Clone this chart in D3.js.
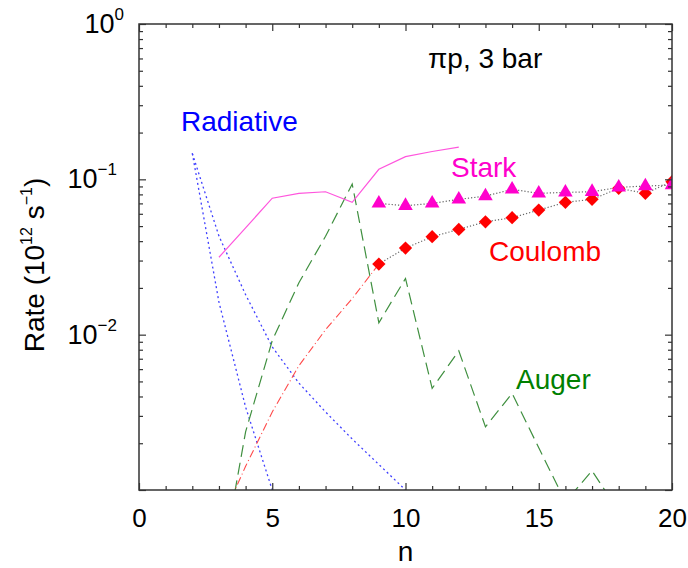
<!DOCTYPE html>
<html>
<head>
<meta charset="utf-8">
<script src="https://cdn.jsdelivr.net/npm/d3@7"></script>
<style>
  body { margin: 0; background: #fff; }
  text { font-family: "Liberation Sans", Arial, sans-serif; }
</style>
</head>
<body>
<svg id="chart" width="688" height="568"></svg>
<script>
// data (rates in 10^12 s^-1)
const radiativeFastN = [2, 3, 4, 5]
const radiativeFast = [0.147, 0.0162, 0.00342, 0.001]
const radiativeSlowN = [2, 3, 4, 5, 6, 7, 8, 9, 10]
const radiativeSlow = [0.147, 0.0431, 0.0181, 0.00834, 0.00488, 0.00318, 0.00213, 0.00146, 0.001]
const starkLineN = [3, 4, 5, 6, 7, 8, 9, 10, 11, 12]
const starkLine = [0.0315, 0.0487, 0.0756, 0.0813, 0.0832, 0.0711, 0.116, 0.140, 0.151, 0.161]
const coulombLineN = [3, 4, 5, 6, 7, 8, 9]
const coulombLine = [0.00059, 0.00142, 0.00318, 0.00631, 0.01076, 0.01707, 0.0285]
const augerN = [3, 4, 5, 6, 7, 8, 9, 10, 11, 12, 13, 14, 15, 16, 17, 18]
const auger = [0.00026, 0.00237, 0.00916, 0.0216, 0.0430, 0.0933, 0.01193, 0.0230, 0.00451, 0.00787,
  0.00255, 0.00419, 0.00187, 0.00084, 0.00133, 0.00073]
const markerN = [9, 10, 11, 12, 13, 14, 15, 16, 17, 18, 19, 20]
const starkMarks = [0.070, 0.0676, 0.070, 0.0743, 0.078, 0.0862, 0.0813, 0.0824, 0.0832, 0.0888, 0.0905, 0.0919]
const coulombMarks = [0.0285, 0.0361, 0.0427, 0.0476, 0.0533, 0.0566, 0.0634, 0.0711, 0.0743, 0.0875, 0.0813, 0.0965]
const xTicks = [0, 5, 10, 15, 20]
const yTicks = [0, -1, -2]

const plotLeft = 139
const plotRight = 672
const plotTop = 24
const plotBottom = 490

const x = d3.scaleLinear().domain([0, 20]).range([plotLeft, plotRight])
const y = d3.scaleLog().domain([1e-3, 1]).range([plotBottom, plotTop])

const svg = d3.select('#chart')

svg.append('clipPath').attr('id', 'plot')
  .append('rect')
  .attr('x', plotLeft).attr('y', plotTop)
  .attr('width', plotRight - plotLeft).attr('height', plotBottom - plotTop)

const plot = svg.append('g').attr('clip-path', 'url(#plot)')

function zip (ns, vs) {
  return ns.map((n, i) => [n, vs[i]])
}

const line = d3.line().x(d => x(d[0])).y(d => y(d[1]))

function drawLine (data, color, width, dash) {
  plot.append('path')
    .datum(data)
    .attr('d', line)
    .style('fill', 'none')
    .style('stroke', color)
    .style('stroke-width', width)
    .style('stroke-dasharray', dash)
}

drawLine(zip(radiativeFastN, radiativeFast), '#4040ff', 1.3, '2,3')
drawLine(zip(radiativeSlowN, radiativeSlow), '#4040ff', 1.3, '2,3')
drawLine(zip(augerN, auger), '#3f8f3f', 1.2, '12,6')
drawLine(zip(coulombLineN, coulombLine), '#ff4a4a', 1.1, '8,3,1,3')
drawLine(zip(starkLineN, starkLine), '#ff55dd', 1.2, null)
drawLine(zip(markerN, starkMarks), '#666', 1.2, '1.2,2')
drawLine(zip(markerN, coulombMarks), '#666', 1.2, '1.2,2')

const diamond = d3.symbol().type(d3.symbolSquare).size(88)
plot.selectAll('.coulomb')
  .data(zip(markerN, coulombMarks))
  .enter().append('path')
  .attr('class', 'coulomb')
  .attr('d', diamond)
  .attr('transform', d => `translate(${x(d[0])},${y(d[1])}) rotate(45)`)
  .style('fill', '#ff0000')

const triangle = d3.symbol().type(d3.symbolTriangle).size(92)
plot.selectAll('.stark')
  .data(zip(markerN, starkMarks))
  .enter().append('path')
  .attr('class', 'stark')
  .attr('d', triangle)
  .attr('transform', d => `translate(${x(d[0])},${y(d[1])})`)
  .style('fill', '#ff00cc')

// frame and ticks (inward)
const axisColor = '#333'
function styleAxis (g) {
  g.select('.domain').remove()
  g.selectAll('.tick line').style('stroke', axisColor).style('stroke-width', 1.2)
  g.selectAll('.tick text').style('font-size', '26px').style('fill', '#000')
}

const xMinor = d3.range(0, 21)
const xb = svg.append('g').attr('transform', `translate(0,${plotBottom})`)
  .call(d3.axisBottom(x).tickValues(xMinor).tickSize(-4).tickPadding(19)
    .tickFormat(d => xTicks.includes(d) ? d : ''))
xb.selectAll('.tick line').attr('y2', d => xTicks.includes(d) ? -7 : -4)
styleAxis(xb)

const xt = svg.append('g').attr('transform', `translate(0,${plotTop})`)
  .call(d3.axisTop(x).tickValues(xMinor).tickSize(-4).tickFormat(''))
xt.selectAll('.tick line').attr('y2', d => xTicks.includes(d) ? 7 : 4)
styleAxis(xt)

const yMinor = []
for (let e = -3; e < 0; e++) {
  for (let m = 1; m < 10; m++) yMinor.push(m * Math.pow(10, e))
}
yMinor.push(1)
const isMajorY = d => Math.abs(Math.log10(d) - Math.round(Math.log10(d))) < 1e-6

const yl = svg.append('g').attr('transform', `translate(${plotLeft},0)`)
  .call(d3.axisLeft(y).tickValues(yMinor).tickSize(-4).tickFormat(''))
yl.selectAll('.tick line').attr('x2', d => isMajorY(d) ? 7 : 4)
styleAxis(yl)

const yr = svg.append('g').attr('transform', `translate(${plotRight},0)`)
  .call(d3.axisRight(y).tickValues(yMinor).tickSize(-4).tickFormat(''))
yr.selectAll('.tick line').attr('x2', d => isMajorY(d) ? -7 : -4)
styleAxis(yr)

svg.append('rect')
  .attr('x', plotLeft).attr('y', plotTop)
  .attr('width', plotRight - plotLeft).attr('height', plotBottom - plotTop)
  .style('fill', 'none')
  .style('stroke', axisColor)
  .style('stroke-width', 1.5)

// y tick labels 10^k
const yLab = svg.selectAll('.ylab')
  .data(yTicks)
  .enter().append('text')
  .attr('class', 'ylab')
  .attr('x', d => d === 0 ? 124 : 117)
  .attr('y', d => y(Math.pow(10, d)) + 9)
  .style('font-size', '27px')
  .style('text-anchor', 'end')
yLab.append('tspan').text('10')
yLab.append('tspan')
  .attr('dy', -13)
  .style('font-size', '17px')
  .text(d => d === 0 ? '0' : '\u2212' + (-d))

// axis titles
svg.append('text')
  .attr('x', (plotLeft + plotRight) / 2)
  .attr('y', 561)
  .style('font-size', '28px')
  .style('text-anchor', 'middle')
  .text('n')

const yTitle = svg.append('text')
  .attr('transform', `translate(44,${(plotTop + plotBottom) / 2 + 8}) rotate(-90)`)
  .style('font-size', '28px')
  .style('text-anchor', 'middle')
yTitle.append('tspan').text('Rate (10')
yTitle.append('tspan').attr('dy', -12).style('font-size', '16px').text('12')
yTitle.append('tspan').attr('dy', 12).text(' s')
yTitle.append('tspan').attr('dy', -12).style('font-size', '16px').text('\u22121')
yTitle.append('tspan').attr('dy', 12).text(')')

// annotations
function note (txt, xx, yy, color) {
  svg.append('text')
    .attr('x', xx).attr('y', yy)
    .style('font-size', '28px')
    .style('fill', color)
    .text(txt)
}
note('\u03c0p, 3 bar', 428, 68, '#000')
note('Radiative', 181, 131, '#0000ff')
note('Stark', 451, 177, '#ff00cc')
note('Coulomb', 489, 261, '#ff0000')
note('Auger', 516, 389, '#008000')
</script>
</body>
</html>
